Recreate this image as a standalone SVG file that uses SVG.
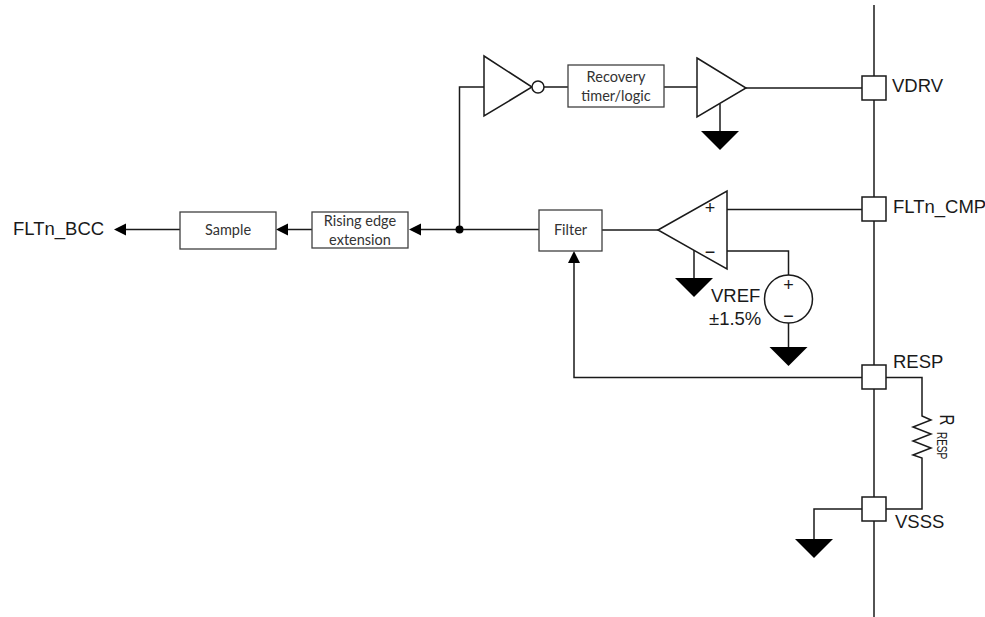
<svg xmlns="http://www.w3.org/2000/svg" width="985" height="617" viewBox="0 0 985 617">
<style>
.w{fill:none;stroke:#1a1a1a;stroke-width:1.5}
.s{fill:#fff;stroke:#1a1a1a;stroke-width:1.5}
.b{fill:#fff;stroke:#404040;stroke-width:1.3}
.g{fill:#000}
.a{font-family:"Liberation Sans",Arial,sans-serif;font-size:18.5px;fill:#1a1a1a}
.c{font-family:Lato,"Open Sans",sans-serif;font-size:14.5px;fill:#333;text-anchor:middle}
.m{font-family:"Liberation Sans",Arial,sans-serif;font-size:18px;fill:#1a1a1a;text-anchor:middle}
</style>
<defs>
<path id="gnd" class="g" d="M-19 0H19L0 19Z"/>
<path id="pin" class="s" d="M-12-12H12V12H-12Z"/>
</defs>
<g id="connectors">
<path class="w" d="M874 5V617"/>
<path class="w" d="M180 229.500H126"/>
<path class="w" d="M312 229.500H288"/>
<path class="w" d="M539 229.500H421"/>
<path class="w" d="M459.500 229.500V87H484"/>
<path class="w" d="M544 87H568M664 87H697M746 88H862"/>
<path class="w" d="M720 104V131"/>
<path class="w" d="M602 230H658M727 209.500H862"/>
<path class="w" d="M727 251H788.500V275M788.500 323V347"/>
<path class="w" d="M694 250V278"/>
<path class="w" d="M862 377.500H574V262"/>
<path class="w" d="M886 377.500H922V416L931 420 913 427 931 434 913 441 931 448 913 455 922 458V509H886"/>
<path class="w" d="M862 509H814V539"/>
<path d="M126 223.500V235.500L114 229.500Z" class="g"/>
<path d="M288 223.500V235.500L276 229.500Z" class="g"/>
<path d="M421 223.500V235.500L409 229.500Z" class="g"/>
<path d="M568 263H580L574 251Z" class="g"/>
<circle cx="459.500" cy="229.500" r="4" class="g"/>
</g>
<g id="inverter"><path class="s" d="M484 56L532 87 484 116Z"/><circle class="s" cx="538" cy="87" r="6"/></g>
<g id="recovery"><rect class="b" x="568" y="65" width="96" height="42"/><text class="c" x="616" y="82">Recovery</text><text class="c" x="616" y="100.500">timer/logic</text></g>
<g id="buffer"><path class="s" d="M697 58L746 88 697 117Z"/><use href="#gnd" x="720" y="131"/></g>
<g id="comparator"><path class="s" d="M658 230L727 191V269Z"/><text class="m" x="710" y="214">+</text><text class="m" x="710" y="258">−</text><use href="#gnd" x="694" y="278"/></g>
<g id="filter"><rect class="b" x="539" y="210" width="63" height="41"/><text class="c" x="570.500" y="235">Filter</text></g>
<g id="sample"><rect class="b" x="180" y="212" width="96" height="37"/><text class="c" x="228" y="235">Sample</text></g>
<g id="rising"><rect class="b" x="312" y="212" width="96" height="36"/><text class="c" x="360" y="226">Rising edge</text><text class="c" x="360" y="245">extension</text></g>
<g id="vref"><circle class="s" cx="788.500" cy="299" r="24"/><text class="m" x="788.500" y="291">+</text><text class="m" x="788.500" y="322">−</text><use href="#gnd" x="788.500" y="347"/><text class="a" x="711" y="302">VREF</text><text class="a" x="709" y="325">±1.5%</text></g>
<g id="pin-vdrv"><use href="#pin" x="874" y="88"/><text class="a" x="892" y="91.500">VDRV</text></g>
<g id="pin-cmp"><use href="#pin" x="874" y="209"/><text class="a" x="893" y="213">FLTn_CMP</text></g>
<g id="pin-resp"><use href="#pin" x="874" y="377"/><text class="a" x="893" y="368">RESP</text></g>
<g id="pin-vsss"><use href="#pin" x="874" y="509"/><text class="a" x="895" y="528">VSSS</text><use href="#gnd" x="814" y="539"/></g>
<g id="rresp"><text class="a" style="font-size:21px" transform="translate(940 414.500) rotate(90) scale(.72 1)">R<tspan style="font-size:14px" dx="9" dy="2.500">RESP</tspan></text></g>
<g id="output"><text class="a" x="13" y="235">FLTn_BCC</text></g>
</svg>
